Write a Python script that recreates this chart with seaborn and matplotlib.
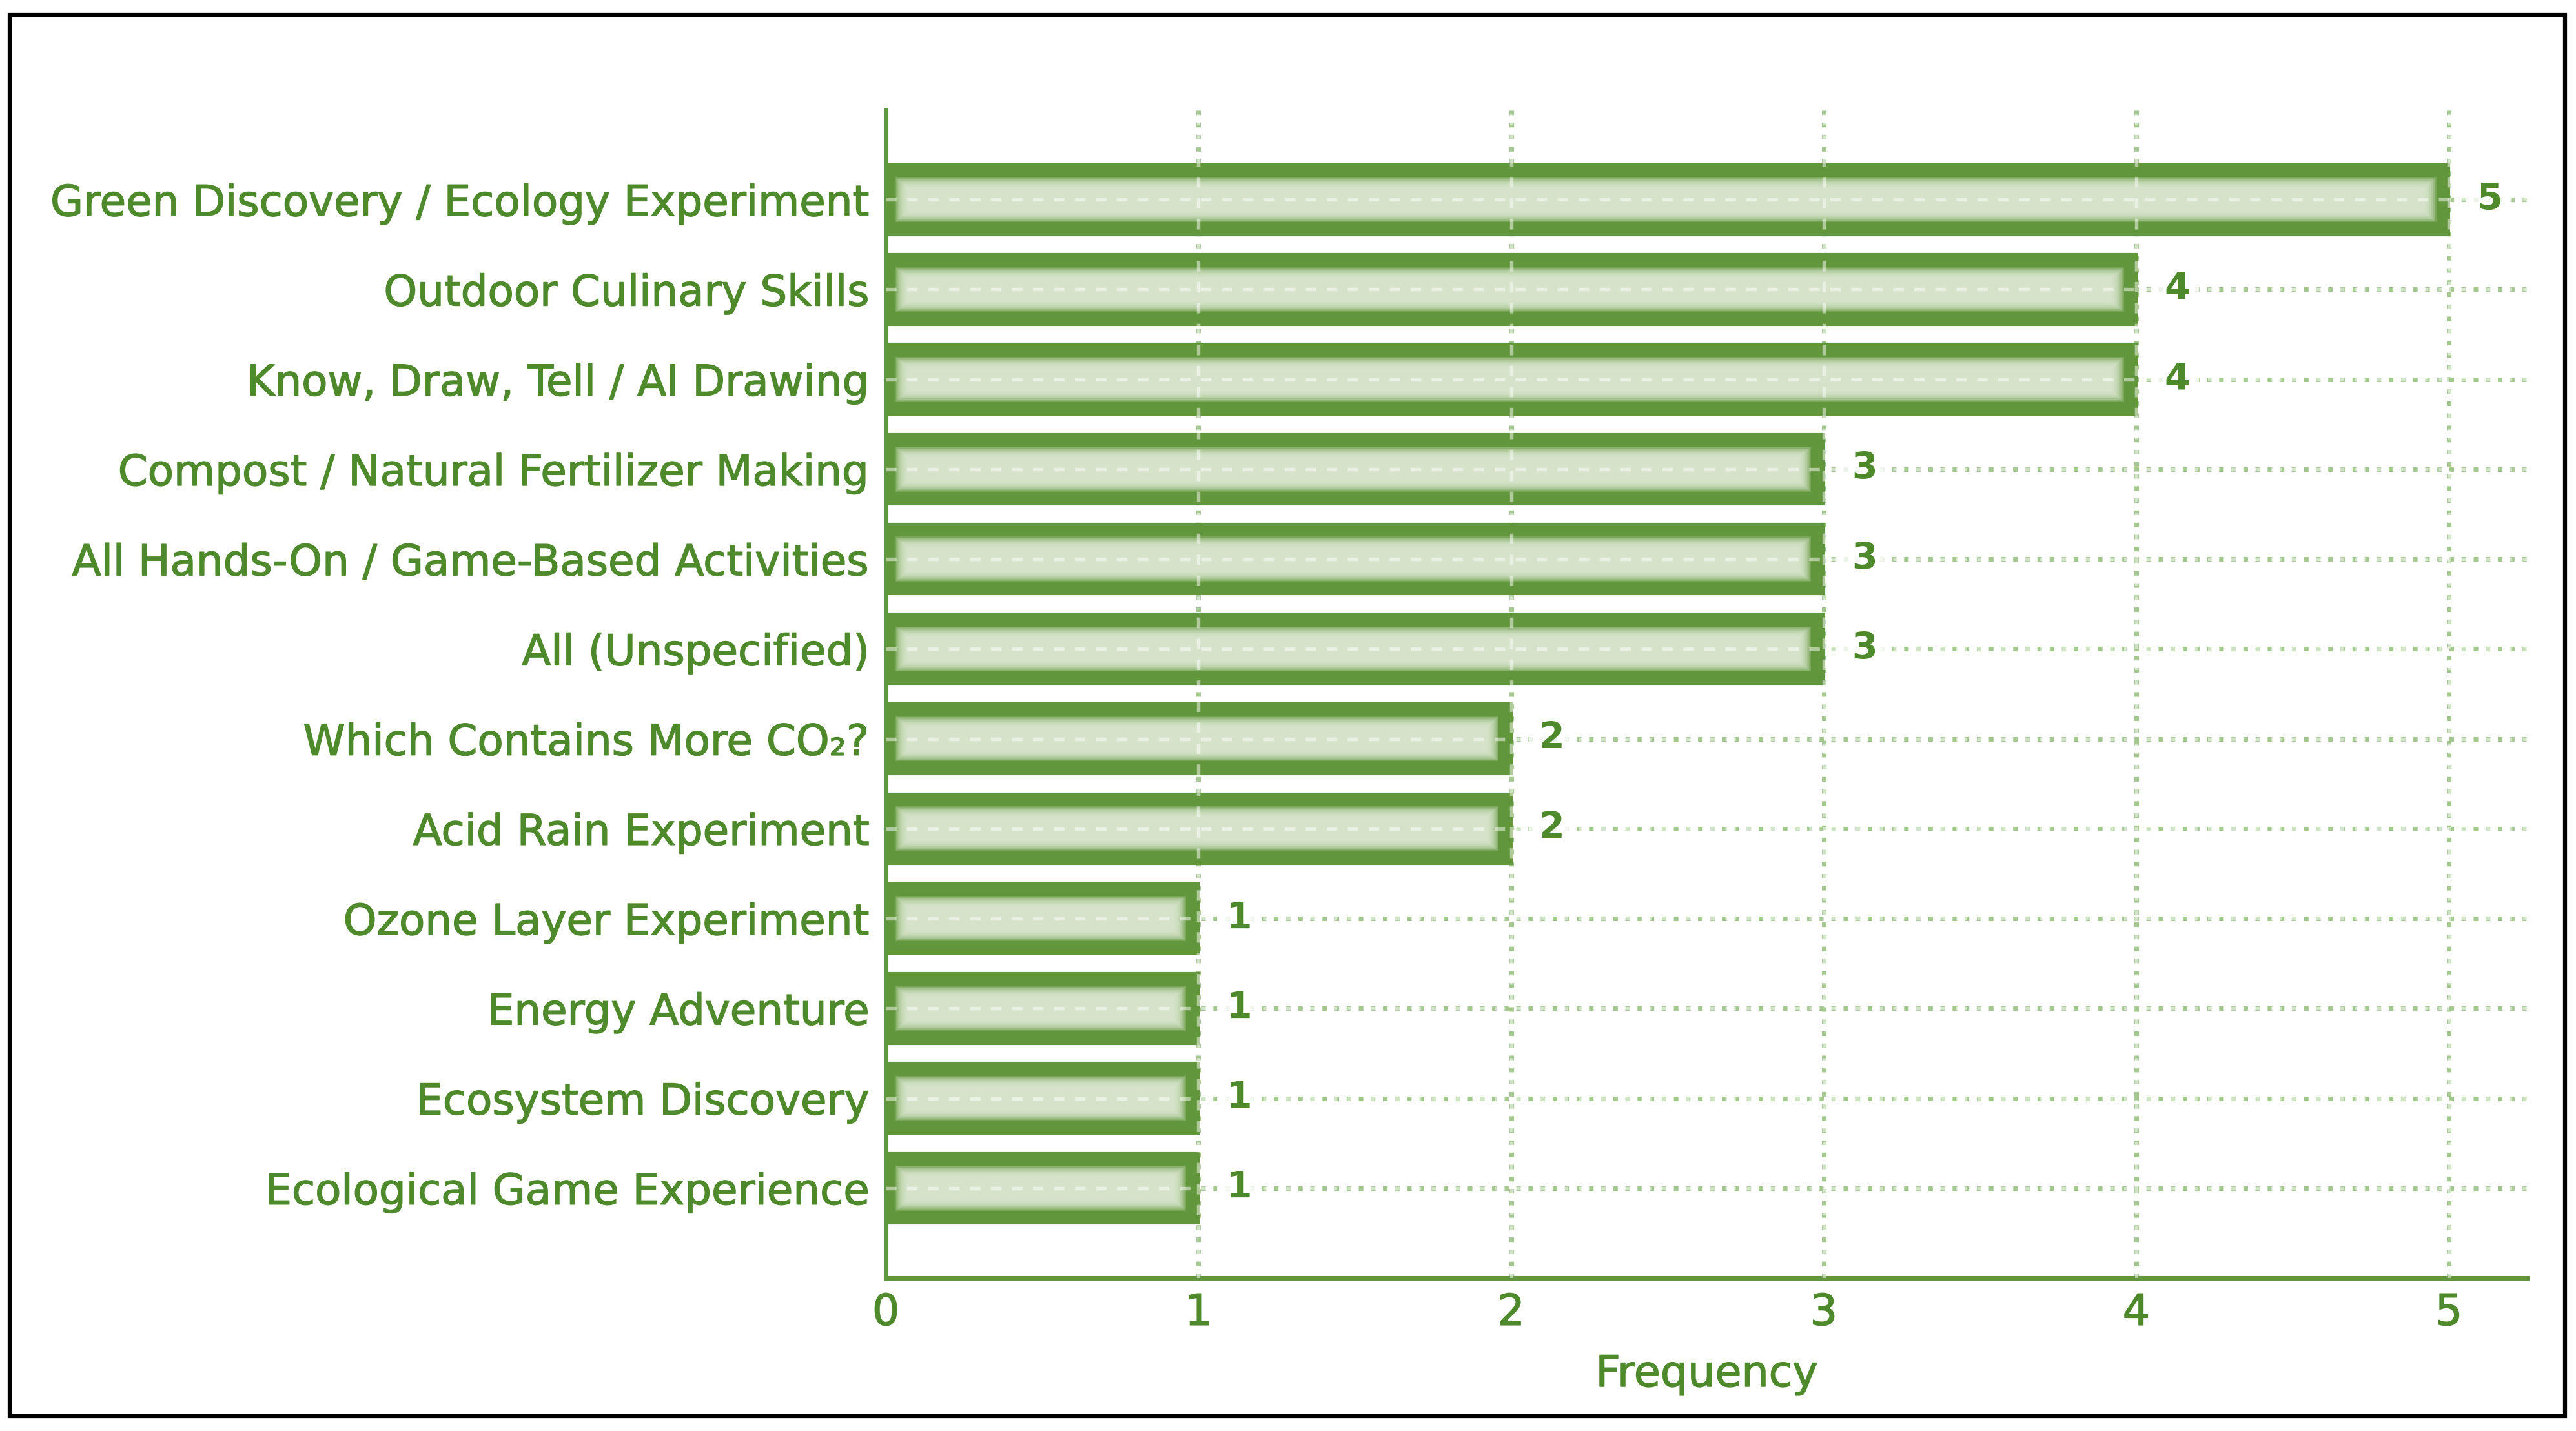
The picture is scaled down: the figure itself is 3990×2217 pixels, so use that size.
import numpy as np
import pandas as pd
import matplotlib.pyplot as plt
import matplotlib.patheffects as pe
import seaborn as sns
from matplotlib.patches import Rectangle

activities = [
    'Green Discovery / Ecology Experiment',
    'Outdoor Culinary Skills',
    'Know, Draw, Tell / AI Drawing',
    'Compost / Natural Fertilizer Making',
    'All Hands-On / Game-Based Activities',
    'All (Unspecified)',
    'Which Contains More CO\u2082?',
    'Acid Rain Experiment',
    'Ozone Layer Experiment',
    'Energy Adventure',
    'Ecosystem Discovery',
    'Ecological Game Experience',
]
frequency = [5, 4, 4, 3, 3, 3, 2, 2, 1, 1, 1, 1]

df = pd.DataFrame({'Activity': activities, 'Frequency': frequency})

bar_green = '#62963c'
text_green = '#4e8a2b'
light_green = '#e0ebd6'

sns.set_theme(style='white')
plt.rcParams['font.family'] = ['DejaVu Sans']

fig = plt.figure(figsize=(13.3, 7.39), dpi=300)
ax = fig.add_axes([0.3439, 0.1069, 0.981 - 0.3439, 0.9233 - 0.1069])

sns.barplot(data=df, y='Activity', x='Frequency', orient='h', color=bar_green,
            saturation=1, edgecolor=bar_green, linewidth=1, width=0.78, ax=ax, zorder=2)

# soft inner highlight, built up from stacked translucent bars
pos = np.arange(len(df))
vals = df['Frequency'].values
n_layers = 14
for k in range(n_layers):
    t = k / (n_layers - 1)
    h = 0.50 - t * 0.24
    left = 0.03 + t * 0.04
    right = vals - 0.04 - t * 0.04
    ax.barh(pos, right - left, left=left, height=h, color=light_green,
            alpha=0.18, linewidth=0, zorder=3)

# grid: green dots under the bars, pale dashes over them
ax.set_axisbelow(True)
ax.grid(True, axis='both', color='#a3c88e', linestyle=':', linewidth=1.7)
for p in pos:
    ax.axhline(p, color='white', alpha=0.5, linestyle=(0, (3, 3)), linewidth=1.3, zorder=4)
for xv in range(1, 6):
    ax.axvline(xv, color='white', alpha=0.5, linestyle=(0, (3, 3)), linewidth=1.3, zorder=4)

for p, v in zip(pos, vals):
    ax.text(v + 0.13, p, str(v), ha='center', va='center', fontsize=13.7,
            fontweight='bold', color=text_green, zorder=5,
            bbox=dict(boxstyle='square,pad=0.25', fc='white', ec='none', alpha=0.8))

ax.set_xlim(0, 5.25)
ax.set_ylim(12.0, -1.0)
ax.set_xticks(range(0, 6))
ax.set_ylabel('')
ax.set_xlabel('Frequency', fontsize=16, color=text_green, labelpad=7)

for side in ['top', 'right']:
    ax.spines[side].set_visible(False)
for side in ['left', 'bottom']:
    ax.spines[side].set_color(bar_green)
    ax.spines[side].set_linewidth(1.7)

ax.tick_params(axis='both', direction='in', length=4, width=1.5, colors=bar_green,
               labelcolor=text_green)
ax.tick_params(axis='y', labelsize=15.8, pad=6)
ax.tick_params(axis='x', labelsize=16, pad=5)

# slightly heavier strokes on the axis text
heavier = [pe.withStroke(linewidth=0.35, foreground=text_green)]
for lab in ax.get_yticklabels() + ax.get_xticklabels() + [ax.xaxis.label]:
    lab.set_path_effects(heavier)

fig.patches.append(Rectangle((0.0038, 0.0104), 0.9919, 0.9792, transform=fig.transFigure,
                             fill=False, edgecolor='black', linewidth=1.5, zorder=10))

plt.savefig('out.png', dpi=300)
plt.close()
